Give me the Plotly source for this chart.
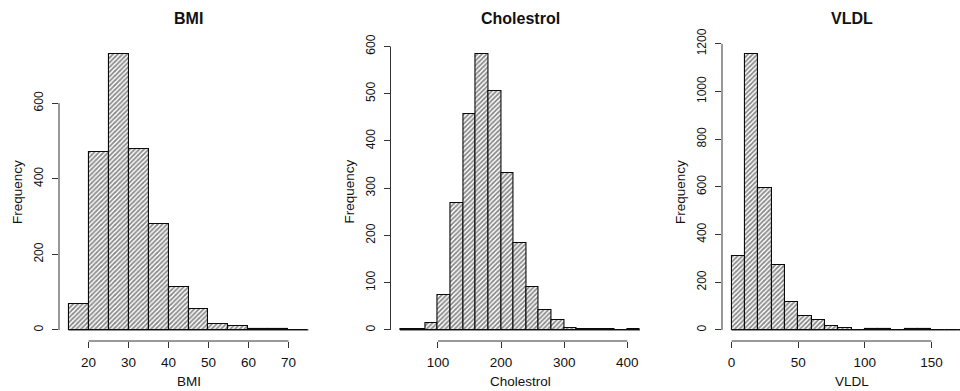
import plotly.graph_objects as go

W, H = 960, 391

# ---------------- data ----------------
bmi_edges = [15, 20, 25, 30, 35, 40, 45, 50, 55, 60, 65, 70, 75]
bmi_counts = [70, 471, 730, 478, 280, 115, 56, 15, 10, 3, 3, 1]
bmi_xticks = [20, 30, 40, 50, 60, 70]
bmi_yticks = [0, 200, 400, 600]

chol_edges = list(range(40, 421, 20))
chol_counts = [1, 3, 15, 75, 268, 458, 584, 506, 333, 185, 92, 43, 21, 5, 3, 1, 1, 0, 2]
chol_xticks = [100, 200, 300, 400]
chol_yticks = [0, 100, 200, 300, 400, 500, 600]

vldl_edges = list(range(0, 181, 10))
vldl_counts = [310, 1157, 597, 273, 116, 58, 42, 17, 7, 1, 4, 2, 0, 2, 2, 0, 0, 1]
vldl_xticks = [0, 50, 100, 150]
vldl_yticks = [0, 200, 400, 600, 800, 1000, 1200]

titles = ["BMI", "Cholestrol", "VLDL"]
xlabels = ["BMI", "Cholestrol", "VLDL"]
ylabel = "Frequency"

panels = [
    (bmi_edges, bmi_counts, bmi_xticks, bmi_yticks),
    (chol_edges, chol_counts, chol_xticks, chol_yticks),
    (vldl_edges, vldl_counts, vldl_xticks, vldl_yticks),
]

# ---------------- layout geometry (pixels) ----------------
LEFTS = [59, 390.5, 722]
PW = 259
TOP, BOT = 43, 341
FONT = "Liberation Sans, Arial, Helvetica, sans-serif"
AX = "#333333"

def px_x(p):
    return p / W

def px_y(p):
    return 1 - p / H

fig = go.Figure()
layout = dict(
    width=W, height=H,
    margin=dict(l=0, r=0, t=0, b=0, autoexpand=False),
    paper_bgcolor="white", plot_bgcolor="white",
    showlegend=False, bargap=0,
    font=dict(family=FONT, color="#111111"),
    shapes=[], annotations=[],
)

for i, (edges, counts, xt, yt) in enumerate(panels):
    n = "" if i == 0 else str(i + 1)
    xa, ya = "x" + n, "y" + n
    centers = [(edges[k] + edges[k + 1]) / 2 for k in range(len(counts))]
    widths = [edges[k + 1] - edges[k] for k in range(len(counts))]
    fig.add_trace(go.Bar(
        x=centers, y=counts, width=widths, xaxis=xa, yaxis=ya,
        marker=dict(
            color="white",
            line=dict(color="#0a0a0a", width=1.1),
            pattern=dict(shape="/", fgcolor="#111111", bgcolor="white",
                         size=3.3, solidity=0.55),
        ),
        hoverinfo="skip",
    ))
    span = edges[-1] - edges[0]
    x0 = edges[0] - 0.04 * span
    x1 = edges[-1] + 0.04 * span
    left = LEFTS[i]
    right = left + PW
    if right > W:
        frac = (W - left) / PW
        x1 = x0 + frac * (x1 - x0)
        right = W
    ymax = max(counts)
    y0r, y1r = -0.04 * ymax, 1.04 * ymax

    layout["xaxis" + n] = dict(
        domain=[px_x(left), px_x(right)], range=[x0, x1], anchor=ya,
        showgrid=False, zeroline=False, showline=False, automargin=False,
        tickmode="array", tickvals=xt, ticktext=[str(v) for v in xt],
        ticks="outside", ticklen=6, tickwidth=1, tickcolor=AX,
        tickfont=dict(size=13.5, family=FONT, color="#111111"),
        ticklabelstandoff=3,
    )
    layout["yaxis" + n] = dict(
        domain=[px_y(BOT), px_y(TOP)], range=[y0r, y1r], anchor=xa,
        showgrid=False, zeroline=False, showline=False, automargin=False,
        tickmode="array", tickvals=yt, ticktext=[str(v) for v in yt],
        ticks="outside", ticklen=6, tickwidth=1, tickcolor=AX,
        tickangle=-90,
        tickfont=dict(size=12, family=FONT, color="#111111"),
        ticklabelstandoff=4,
    )
    # R-style axis lines spanning first to last tick
    layout["shapes"].append(dict(
        type="line", xref=xa, yref="paper",
        x0=xt[0], x1=xt[-1], y0=px_y(BOT), y1=px_y(BOT),
        line=dict(color=AX, width=1),
    ))
    layout["shapes"].append(dict(
        type="line", xref="paper", yref=ya,
        x0=px_x(left), x1=px_x(left), y0=yt[0], y1=yt[-1],
        line=dict(color=AX, width=1),
    ))
    # baseline under all bins (zero-height bins drawn as a line, as in R)
    layout["shapes"].append(dict(
        type="line", xref=xa, yref=ya,
        x0=edges[0], x1=edges[-1], y0=0, y1=0,
        line=dict(color="#111111", width=1),
    ))
    layout["annotations"].append(dict(
        text="<b>" + titles[i] + "</b>", xref="paper", yref="paper",
        x=px_x(LEFTS[i] + PW / 2), y=px_y(18), xanchor="center", yanchor="middle",
        showarrow=False, font=dict(size=16, family=FONT, color="#111111"),
    ))
    layout["annotations"].append(dict(
        text=xlabels[i], xref="paper", yref="paper",
        x=px_x(LEFTS[i] + PW / 2), y=px_y(381), xanchor="center", yanchor="middle",
        showarrow=False, font=dict(size=13.5, family=FONT, color="#111111"),
    ))
    layout["annotations"].append(dict(
        text=ylabel, xref="paper", yref="paper",
        x=px_x(left - 42), y=px_y((TOP + BOT) / 2), xanchor="center", yanchor="middle",
        textangle=-90,
        showarrow=False, font=dict(size=13.5, family=FONT, color="#111111"),
    ))

fig.update_layout(**layout)
fig.write_html(
    "out.html",
    config={"displayModeBar": False},
    post_script="document.body.style.margin='0';document.body.style.overflow='hidden';",
)
